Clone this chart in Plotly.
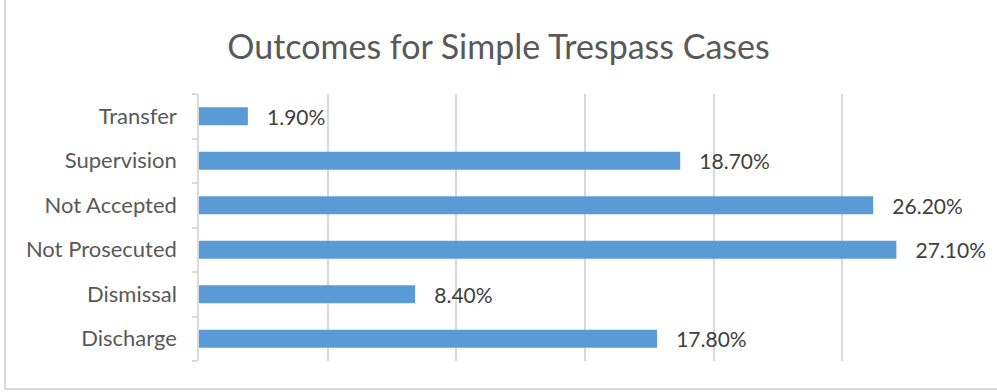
import plotly.graph_objects as go

categories = ["Discharge", "Dismissal", "Not Prosecuted", "Not Accepted", "Supervision", "Transfer"]
values = [0.178, 0.084, 0.271, 0.262, 0.187, 0.019]
labels = ["17.80%", "8.40%", "27.10%", "26.20%", "18.70%", "1.90%"]

W, H = 997, 392
ML, MR, MT, MB = 199, 26, 94, 31
pw, ph = W - ML - MR, H - MT - MB

fig = go.Figure(go.Bar(
    y=categories, x=values, orientation="h",
    marker=dict(color="#5B9BD5", line=dict(width=0)),
    text=["\u00a0\u00a0\u00a0" + t for t in labels],
    textposition="outside", cliponaxis=False, constraintext="none",
    textfont=dict(family="Lato", size=21, color="#404040"),
))

fig.update_layout(
    width=W, height=H,
    margin=dict(l=ML, r=MR, t=MT, b=MB),
    paper_bgcolor="white", plot_bgcolor="white",
    bargap=0.6, showlegend=False,
    title=dict(text="Outcomes for Simple Trespass Cases", x=0.5, xanchor="center",
               y=1 - 47 / H, yanchor="middle",
               font=dict(family="Lato", size=34, color="#595959")),
    xaxis=dict(range=[0, 0.30], dtick=0.05, showticklabels=False, showgrid=True,
               gridcolor="#d9d9d9", gridwidth=1.5, zeroline=False, showline=False),
    yaxis=dict(showline=True, linecolor="#d9d9d9", linewidth=1.5, ticks="outside",
               ticklen=5, tickcolor="#d9d9d9", tickwidth=1.5, tickson="boundaries",
               tickfont=dict(family="Lato", size=22, color="#595959"), ticklabelstandoff=16),
    shapes=[dict(type="rect", xref="paper", yref="paper",
                 x0=(5 - ML) / pw, x1=(W + 5 - ML) / pw,
                 y0=-(389 - MT - ph) / ph, y1=(ph + MT + 5) / ph,
                 line=dict(color="#d9d9d9", width=2), fillcolor="rgba(0,0,0,0)", layer="below")],
)

fig.write_html("out.html")
